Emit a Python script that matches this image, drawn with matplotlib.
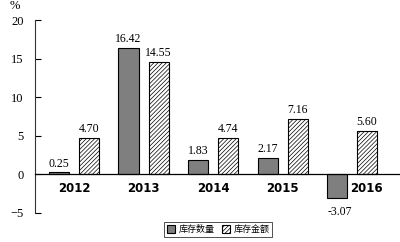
import numpy as np
import matplotlib.pyplot as plt
from matplotlib.patches import Patch

plt.rcParams['hatch.color'] = '#777777'
plt.rcParams['hatch.linewidth'] = 0.5

years = ['2012', '2013', '2014', '2015', '2016']
qty = [0.25, 16.42, 1.83, 2.17, -3.07]      # 库存数量
amount = [4.70, 14.55, 4.74, 7.16, 5.60]    # 库存金额

serif = ['Liberation Serif', 'DejaVu Serif']
cjk = ['Noto Sans CJK SC', 'DejaVu Sans']

fig = plt.figure(figsize=(4, 2.42), dpi=100)
ax = fig.add_axes([0.0875, 0.12, 0.9125, 0.797])

x = np.arange(len(years))
w = 0.288
off = 0.216
ax.bar(x - off, qty, w, color='#7f7f7f', edgecolor='black', linewidth=0.8)
ax.bar(x + off, amount, w, color='white', edgecolor='black', linewidth=0.8,
       hatch='////////')

ax.set_xlim(-0.561, 4.69)
ax.set_ylim(-5, 20)
ax.set_yticks([-5, 0, 5, 10, 15, 20])
ax.set_yticklabels(['\u22125', '0', '5', '10', '15', '20'], family=serif, fontsize=9)
ax.tick_params(axis='y', direction='in', length=4, width=0.8, pad=8)
ax.set_xticks([])

for s in ['top', 'right']:
    ax.spines[s].set_visible(False)
ax.spines['bottom'].set_position(('data', 0))
ax.spines['bottom'].set_linewidth(0.9)
ax.spines['left'].set_color('#333333')

# value labels
for xi, v in zip(x, qty):
    if v >= 0:
        ax.annotate(f'{v:.2f}', (xi - off, v), xytext=(0, 2), textcoords='offset points',
                    ha='center', va='bottom', family=serif, fontsize=8.5)
    else:
        ax.annotate(f'{v:.2f}', (xi - off, v), xytext=(2, -6), textcoords='offset points',
                    ha='center', va='top', family=serif, fontsize=8.5)
for xi, v in zip(x, amount):
    ax.annotate(f'{v:.2f}', (xi + off, v), xytext=(0, 2), textcoords='offset points',
                ha='center', va='bottom', family=serif, fontsize=8.5)

# year labels under the zero line (2016 pushed right of the negative bar)
for xi, yr, v in zip(x, years, qty):
    dx = 0.2 if v < 0 else 0.0
    ax.text(xi + dx, -1.0, yr, ha='center', va='top', fontsize=8.5, fontweight='bold',
            family=['DejaVu Sans'])

fig.text(0.038, 0.998, '%', ha='center', va='top', family=serif, fontsize=9)

handles = [Patch(facecolor='#7f7f7f', edgecolor='black', linewidth=0.8),
           Patch(facecolor='white', edgecolor='black', linewidth=0.8, hatch='////////')]
leg = fig.legend(handles, ['库存数量', '库存金额'], loc='center', bbox_to_anchor=(0.545, 0.052),
                 ncol=2, prop={'family': cjk, 'size': 6.5}, frameon=True, fancybox=False,
                 edgecolor='black', handlelength=0.9, handleheight=0.9, handletextpad=0.4,
                 columnspacing=0.8, borderpad=0.3)
leg.get_frame().set_linewidth(0.6)

fig.savefig('out.png', dpi=100)
